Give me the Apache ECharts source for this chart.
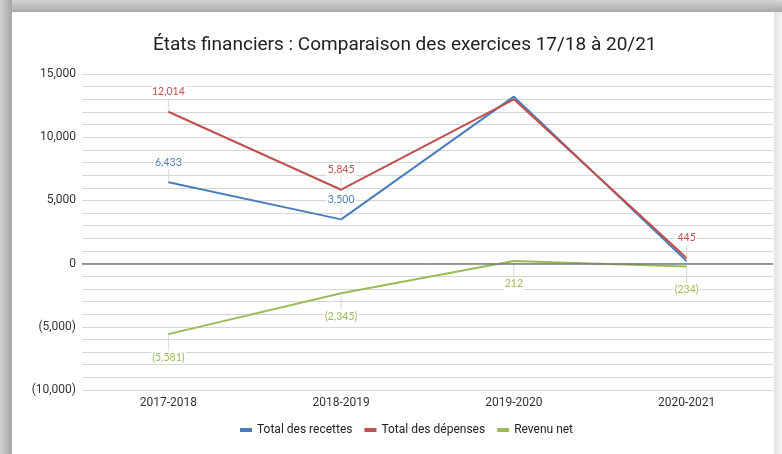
<!DOCTYPE html>
<html>
<head>
<meta charset="utf-8">
<script src="https://cdn.jsdelivr.net/npm/echarts@6/dist/echarts.min.js"></script>
<style>
  body { margin: 0; background: #fff; }
  #chart { position: absolute; left: 0; top: 0; width: 782px; height: 454px; }
  .band { position: absolute; pointer-events: none; }
  #top { left: 0; top: 0; width: 782px; height: 12px; background: linear-gradient(to bottom, #d4d4d4, #a9a9a9); }
  #left { left: 0; top: 0; width: 12px; height: 454px; background: linear-gradient(to right, #d2d2d2, #a4a4a4); }
  #right { left: 774px; top: 12px; width: 8px; height: 442px; background: linear-gradient(to right, #e4e4e4, #f3f3f3); }
</style>
</head>
<body>
<div id="chart"></div>
<div class="band" id="right"></div>
<div class="band" id="top"></div>
<div class="band" id="left"></div>
<script>
const categories = ['2017-2018', '2018-2019', '2019-2020', '2020-2021'];
const recettes = [6433, 3500, 13212, 211];
const depenses = [12014, 5845, 13000, 445];
const revenuNet = [-5581, -2345, 212, -234];
// labels hidden in the reference for 2019-2020
const hideLabelAt = [2];

const BLUE = '#4a7ebb';
const RED = '#c0504d';
const GREEN = '#9bbb59';

function fmt(v) {
    let s = Math.abs(v).toLocaleString('en-US');
    return v < 0 ? '(' + s + ')' : s;
}

function makeSeries(name, data, color, below, hide) {
    return {
        name: name,
        type: 'line',
        data: data.map((v, i) => hide.indexOf(i) >= 0 ? { value: v, label: { show: false }, labelLine: { show: false } } : v),
        symbol: 'circle',
        symbolSize: 1,
        itemStyle: { color: color },
        lineStyle: { color: color, width: 2 },
        label: {
            show: true,
            position: below ? 'bottom' : 'top',
            distance: 4,
            color: color,
            fontFamily: 'Lato',
            fontSize: 10.5,
            backgroundColor: '#fff',
            padding: [1, 1],
            formatter: p => fmt(p.value)
        },
        labelLayout: { dy: below ? 12 : -9 },
        labelLine: { show: true, lineStyle: { color: '#d9d9d9', width: 1 } }
    };
}

let chart = echarts.init(document.getElementById('chart'));
let series = [
    makeSeries('Total des recettes', recettes, BLUE, false, hideLabelAt),
    makeSeries('Total des dépenses', depenses, RED, false, hideLabelAt),
    makeSeries('Revenu net', revenuNet, GREEN, true, [])
];
series[0].markLine = {
    silent: true,
    symbol: 'none',
    label: { show: false },
    lineStyle: { color: '#7a7a7a', width: 1.5, type: 'solid' },
    data: [{ yAxis: 0 }]
};
series[0].z = 3;
series[1].z = 4;
series[2].z = 2;

chart.setOption({
    animation: false,
    backgroundColor: '#fff',
    title: {
        text: 'États financiers : Comparaison des exercices 17/18 à 20/21',
        left: 148,
        top: 31,
        textStyle: { fontFamily: 'Roboto', fontSize: 19, fontWeight: 'normal', color: '#212121' }
    },
    legend: {
        bottom: 13,
        left: 235,
        icon: 'rect',
        itemWidth: 12,
        itemHeight: 4,
        itemGap: 12,
        textStyle: { fontFamily: 'Roboto', fontSize: 12, color: '#222' },
        data: ['Total des recettes', 'Total des dépenses', 'Revenu net']
    },
    grid: { left: 82, right: 9, top: 74, bottom: 64, containLabel: false, outerBoundsMode: 'none' },
    xAxis: {
        type: 'category',
        data: categories,
        boundaryGap: true,
        axisLine: { show: false },
        axisTick: { show: false },
        axisLabel: { fontFamily: 'Roboto', fontSize: 12, color: '#333', margin: 7 }
    },
    yAxis: {
        type: 'value',
        min: -10000,
        max: 15000,
        interval: 5000,
        axisLine: { show: false },
        axisTick: { show: false },
        axisLabel: { fontFamily: 'Roboto', fontSize: 12, color: '#333', margin: 6, formatter: fmt },
        splitLine: { lineStyle: { color: '#d6d6d6', width: 1 } },
        minorTick: { show: false, splitNumber: 5 },
        minorSplitLine: { show: true, lineStyle: { color: '#d6d6d6', width: 1 } }
    },
    series: series
});
</script>
</body>
</html>
